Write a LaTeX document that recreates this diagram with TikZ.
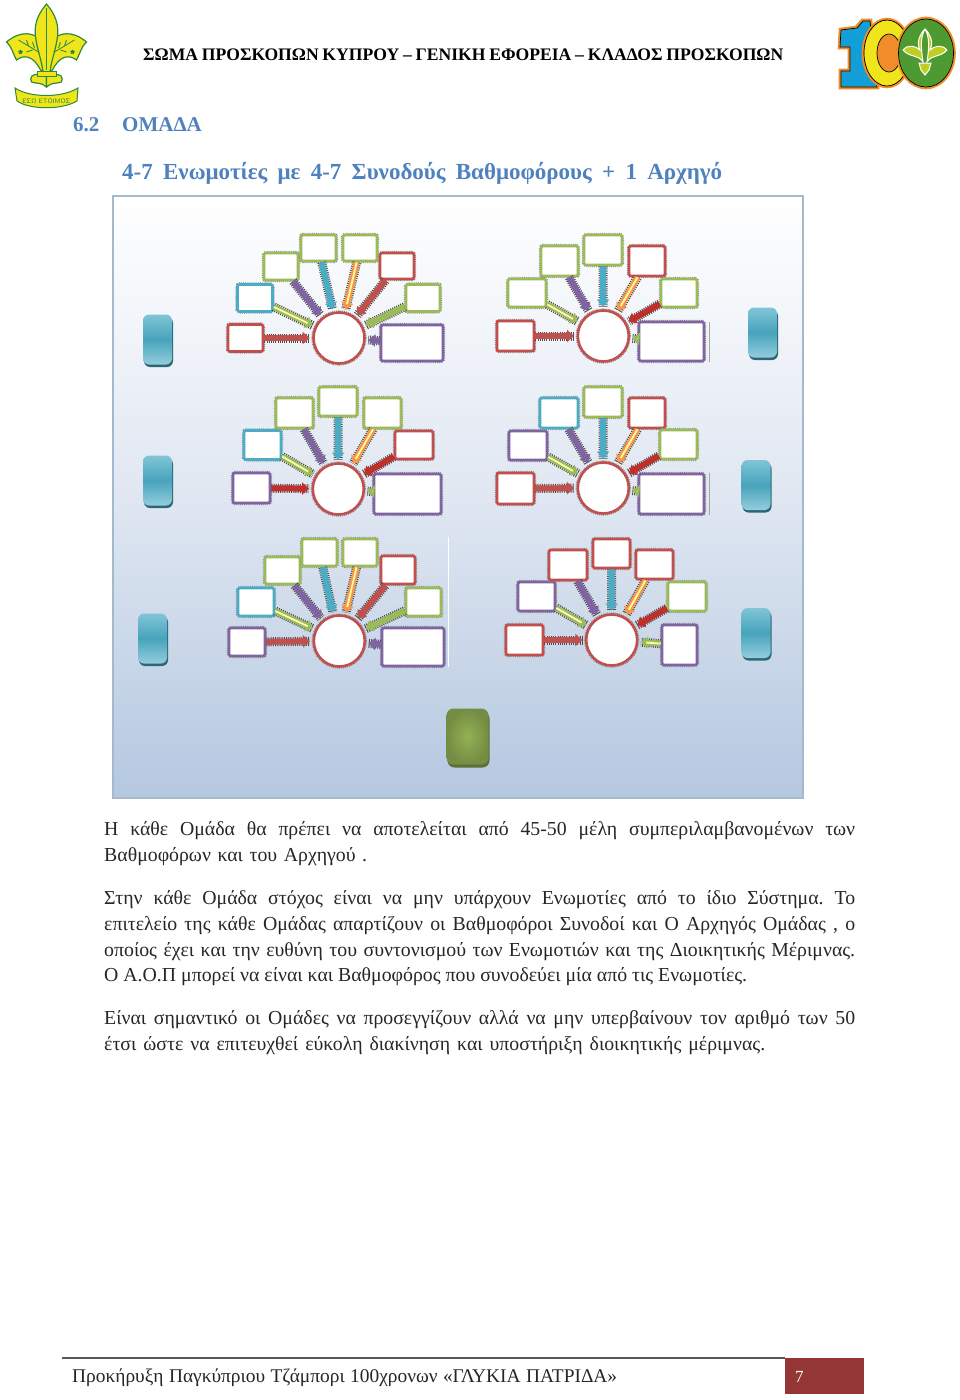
\documentclass[tikz,border=0pt]{standalone}
\usepackage{fontspec}
\setmainfont{Liberation Serif}
\usetikzlibrary{arrows.meta, shadows, shapes.geometric}

\definecolor{fanred}{HTML}{C0504D}
\definecolor{fandark}{HTML}{C0302B}
\definecolor{fangreen}{HTML}{9BBB59}
\definecolor{fanblue}{HTML}{4BACC6}
\definecolor{fanviolet}{HTML}{8064A2}
\definecolor{fanorange}{HTML}{F79646}
\definecolor{titleblue}{HTML}{4F81BD}
\definecolor{leafgreen}{HTML}{2F8A3C}
\definecolor{leafyellow}{HTML}{F0E51A}
\definecolor{logoblue}{HTML}{129FD8}
\definecolor{logoorange}{HTML}{F08C2A}
\definecolor{logogreen}{HTML}{4E9A32}
\definecolor{panelmid}{HTML}{E0E7F2}
\definecolor{panelbot}{HTML}{B4C8E0}
\definecolor{panelline}{HTML}{A5B9CD}
\definecolor{pagered}{HTML}{943634}

\newcommand{\fitline}[2]{\hbox to #1pt{\frenchspacing\spaceskip=.25em plus 1fil minus .1em #2}}

\begin{document}
\begin{tikzpicture}[
		x=1pt, y=-1pt,
		wh/.style 2 args={minimum width=#1pt, minimum height=#2pt},
		card/.style={rectangle, rounded corners=2pt, fill=white, line width=2.6pt, inner sep=0pt,
			preaction={draw=black!45, line width=4.2pt, dash pattern=on .9pt off 1pt}},
		cred/.style={card, draw=fanred},
		cgreen/.style={card, draw=fangreen},
		cblue/.style={card, draw=fanblue},
		cviolet/.style={card, draw=fanviolet},
		hub/.style={circle, draw=fanred, fill=white, line width=2.6pt, minimum size=51pt, inner sep=0pt,
			preaction={draw=black!45, line width=4.4pt, dash pattern=on .9pt off 1pt}},
		arr/.style={line width=6pt, shorten >=2.5pt, -{Triangle[length=7pt,width=12pt]},
			preaction={draw=black!70, -, line width=9pt, dash pattern=on 1pt off 1.2pt}},
		lit/.style={postaction={draw=#1, -, line width=1.8pt, shorten >=8pt}},
		aviolet/.style={arr, draw=fanviolet},
		ablue/.style={arr, draw=fanblue},
		ared/.style={arr, draw=fanred},
		adark/.style={arr, draw=fandark},
		agreen/.style={arr, draw=fangreen},
		aorange/.style={arr, draw=fanorange, lit=yellow!35},
		alight/.style={arr, draw=fangreen, lit=yellow!30},
		sidebox/.style={rectangle, rounded corners=6pt, wh={29}{50},
			top color=fanblue!70!white, bottom color=fanblue!60!white, middle color=fanblue!95!black,
			drop shadow={shadow xshift=1pt, shadow yshift=-2.5pt, fill=fanblue!60!black, opacity=1}},
		chief/.style={rectangle, rounded corners=7pt, wh={42}{56}, inner color=fangreen!95!black, outer color=fangreen!75!black,
			drop shadow={shadow xshift=1pt, shadow yshift=-3pt, fill=fangreen!60!black, opacity=1}},
		bodyline/.style={anchor=base west, inner sep=0pt, text=black!85, font=\fontsize{19.8}{24}\selectfont},
		headline/.style={anchor=base west, inner sep=0pt, text=titleblue, font=\fontsize{21}{26}\selectfont\bfseries}
	]
	\useasboundingbox (0,0) rectangle (960,1400);

	% emblem left
	\foreach \s in {1,-1} {
		\begin{scope}[xshift=46.5pt, xscale=\s]
			\draw[fill=leafyellow, draw=leafgreen, line width=1.2pt] (3,62) .. controls (2,48) and (-1,44) .. (-3,42)
				.. controls (-12,32) and (-26,30) .. (-40,42) .. controls (-35,46) and (-33,55) .. (-30,60)
				.. controls (-22,54) and (-13,56) .. (-6,70) -- (0,72) -- cycle;
			\draw[leafgreen, line width=.8pt] (-8,52) -- (-28,40) (-12,48) -- (-14,42) (-18,46) -- (-20,40) (-14,50) -- (-20,52);
			\node[star, star points=5, fill=leafgreen, inner sep=0pt, minimum size=5pt] (star\s) at (-26,52) {};
			\draw[fill=leafyellow, draw=leafgreen, line width=1.2pt] (-7,75) .. controls (-15,73) and (-17,78) .. (-15,82)
				.. controls (-10,84) and (-5,82) .. (0,87) -- (0,75) -- cycle;
		\end{scope}
	}
	\draw[fill=leafyellow, draw=leafgreen, line width=1.2pt] (46.5,4) .. controls (38,14) and (33,25) .. (36,40)
		.. controls (38,52) and (42,62) .. (43,72) -- (50,72) .. controls (51,62) and (55,52) .. (57,40)
		.. controls (60,25) and (55,14) .. cycle;
	\draw[leafgreen, line width=1pt] (46.5,8) -- (46.5,70);
	\draw[fill=leafyellow, draw=leafgreen, line width=1pt] (37,71) rectangle (56,76);
	\draw[fill=leafyellow, draw=leafgreen, line width=1pt] (15,88) .. controls (30,98) and (62,98) .. (78,88)
		-- (77,101) .. controls (62,110) and (30,110) .. (17,101) -- cycle;
	\node[inner sep=0pt, text=leafgreen, font=\sffamily\fontsize{6.5}{7}\selectfont] (motto) at (46.5,101) {ΕΣΩ ΕΤΟΙΜΟΣ};

	% emblem right
	\draw[fill=logoblue, draw=logoorange, line width=2.6pt] (840,29) -- (856,27) -- (862,20) -- (871,20) -- (878,88) -- (840,88)
		-- (840,70) -- (849,70) -- (849,48) -- (839,48) -- cycle;
	\draw[draw=black, line width=.7pt] (841,30) -- (857,28) -- (863,21) -- (870,21) -- (877,87) -- (841,87)
		-- (841,71) -- (850,71) -- (850,47) -- (840,47) -- cycle;
	\draw[fill=leafyellow, draw=logoorange, line width=2.6pt] (887,53) ellipse (24 and 34);
	\draw[draw=black, line width=.7pt] (887,53) ellipse (23 and 33);
	\draw[fill=logoorange, draw=black, line width=.7pt] (889,53) ellipse (12 and 19);
	\draw[fill=logogreen, draw=logoorange, line width=2.6pt] (926,53) ellipse (28.5 and 35);
	\draw[draw=black, line width=.7pt] (926,53) ellipse (27.5 and 34);
	\draw[fill=leafyellow!70!logogreen, draw=white, line width=1pt] (925,29) .. controls (920,38) and (921,48) .. (923,62)
		.. controls (918,54) and (910,58) .. (903,50) .. controls (908,44) and (916,46) .. (920,50)
		.. controls (916,42) and (920,34) .. (925,29) .. controls (930,34) and (934,42) .. (930,50)
		.. controls (934,46) and (942,44) .. (947,50) .. controls (940,58) and (932,54) .. (927,62)
		.. controls (929,48) and (930,38) .. cycle;
	\draw[fill=leafyellow!70!logogreen, draw=white, line width=1pt] (919,63) -- (931,63) -- (929,70) -- (925,75) -- (921,70) -- cycle;

	\node[anchor=base west, inner sep=0pt, font=\fontsize{17.6}{22}\selectfont\bfseries] (corps) at (143,60) {\fitline{640}{ΣΩΜΑ ΠΡΟΣΚΟΠΩΝ ΚΥΠΡΟΥ – ΓΕΝΙΚΗ ΕΦΟΡΕΙΑ – ΚΛΑΔΟΣ ΠΡΟΣΚΟΠΩΝ}};
	\node[headline] (secno) at (73,131) {6.2};
	\node[headline] (sec) at (122,131) {\fitline{78}{ΟΜΑΔΑ}};
	\node[headline, font=\fontsize{23}{28}\selectfont\bfseries] (subsec) at (122,179) {\fitline{600}{4-7 Ενωμοτίες με 4-7 Συνοδούς Βαθμοφόρους + 1 Αρχηγό}};

	\node[rectangle, draw=panelline, line width=2.4pt, wh={690}{602}, top color=white, bottom color=panelbot, middle color=panelmid, inner sep=0pt] (panel) at (458,497) {};

	% upper left
	\node[hub] (hub1) at (339,338) {};
	\node[cred, wh={35}{27}] (a1) at (245.5,338) {};
	\node[cblue, wh={35}{27}] (b1) at (255,298) {};
	\node[cgreen, wh={34}{27}] (c1) at (281,266.5) {};
	\node[cgreen, wh={35}{26}] (d1) at (318.5,248) {};
	\node[cgreen, wh={34}{26}] (e1) at (360,248) {};
	\node[cred, wh={34}{26}] (f1) at (397,266) {};
	\node[cgreen, wh={34}{27}] (g1) at (423,298) {};
	\node[cviolet, wh={62}{36}] (h1) at (412,343) {};
	\draw[ared] (a1) -- (hub1);
	\draw[alight] (b1) -- (hub1);
	\draw[aviolet] (c1) -- (hub1);
	\draw[ablue] (d1) -- (hub1);
	\draw[aorange] (e1) -- (hub1);
	\draw[ared] (f1) -- (hub1);
	\draw[agreen] (g1) -- (hub1);
	\draw[aviolet] (h1) -- (hub1);

	% upper right
	\node[hub] (hub2) at (603.3,336) {};
	\node[cred, wh={37}{30}] (a2) at (515.5,336) {};
	\node[cgreen, wh={38}{28}] (b2) at (527,293) {};
	\node[cgreen, wh={37}{30}] (c2) at (559.5,261) {};
	\node[cgreen, wh={38}{30}] (d2) at (603,250) {};
	\node[cred, wh={36}{30}] (e2) at (647,261) {};
	\node[cgreen, wh={36}{28}] (f2) at (679,293) {};
	\node[cviolet, wh={65}{39}] (g2) at (671.5,341.5) {};
	\draw[ared] (a2) -- (hub2);
	\draw[alight] (b2) -- (hub2);
	\draw[aviolet] (c2) -- (hub2);
	\draw[ablue] (d2) -- (hub2);
	\draw[aorange] (e2) -- (hub2);
	\draw[adark] (f2) -- (hub2);
	\draw[alight] (g2) -- (hub2);
	\draw[black!35, thin] (709,322) -- (709,362);

	% middle left
	\node[hub] (hub3) at (338.3,489) {};
	\node[cviolet, wh={37}{30}] (a3) at (251.5,488) {};
	\node[cblue, wh={37}{29}] (b3) at (262.5,445) {};
	\node[cgreen, wh={37}{30}] (c3) at (294.5,413) {};
	\node[cgreen, wh={38}{29}] (d3) at (338,401.5) {};
	\node[cgreen, wh={37}{30}] (e3) at (382.5,413) {};
	\node[cred, wh={38}{28}] (f3) at (414,445) {};
	\node[cviolet, wh={67}{40}] (g3) at (407.5,494) {};
	\draw[adark] (a3) -- (hub3);
	\draw[alight] (b3) -- (hub3);
	\draw[aviolet] (c3) -- (hub3);
	\draw[ablue] (d3) -- (hub3);
	\draw[aorange] (e3) -- (hub3);
	\draw[adark] (f3) -- (hub3);
	\draw[alight] (g3) -- (hub3);

	% middle right
	\node[hub] (hub4) at (603.3,488) {};
	\node[cred, wh={37}{31}] (a4) at (515.5,488.5) {};
	\node[cviolet, wh={38}{29}] (b4) at (528,445.5) {};
	\node[cblue, wh={38}{30}] (c4) at (559,413) {};
	\node[cgreen, wh={38}{30}] (d4) at (603,402) {};
	\node[cred, wh={36}{30}] (e4) at (647,413) {};
	\node[cgreen, wh={37}{29}] (f4) at (678.5,444.5) {};
	\node[cviolet, wh={65}{40}] (g4) at (671.5,494) {};
	\draw[ared] (a4) -- (hub4);
	\draw[alight] (b4) -- (hub4);
	\draw[aviolet] (c4) -- (hub4);
	\draw[ablue] (d4) -- (hub4);
	\draw[aorange] (e4) -- (hub4);
	\draw[adark] (f4) -- (hub4);
	\draw[alight] (g4) -- (hub4);
	\draw[black!35, thin] (709,473) -- (709,515);

	% lower left
	\node[hub] (hub5) at (339.3,641) {};
	\node[cviolet, wh={36}{28}] (a5) at (247,642) {};
	\node[cblue, wh={36}{28}] (b5) at (256,602) {};
	\node[cgreen, wh={35}{27}] (c5) at (282.5,570.5) {};
	\node[cgreen, wh={35}{27}] (d5) at (319.5,552.5) {};
	\node[cgreen, wh={34}{27}] (e5) at (360,552.5) {};
	\node[cred, wh={34}{28}] (f5) at (398,570) {};
	\node[cgreen, wh={35}{28}] (g5) at (423.5,602) {};
	\node[cviolet, wh={62}{38}] (h5) at (413,647) {};
	\draw[ared] (a5) -- (hub5);
	\draw[alight] (b5) -- (hub5);
	\draw[aviolet] (c5) -- (hub5);
	\draw[ablue] (d5) -- (hub5);
	\draw[aorange] (e5) -- (hub5);
	\draw[ared] (f5) -- (hub5);
	\draw[agreen] (g5) -- (hub5);
	\draw[aviolet] (h5) -- (hub5);
	\draw[white, thin] (448.5,537) -- (448.5,667);

	% lower right
	\node[hub] (hub6) at (611.7,640) {};
	\node[cred, wh={37}{30}] (a6) at (524.5,640) {};
	\node[cviolet, wh={37}{29}] (b6) at (536.5,596.5) {};
	\node[cred, wh={38}{30}] (c6) at (568,565) {};
	\node[cred, wh={37}{29}] (d6) at (611.5,553.5) {};
	\node[cred, wh={37}{29}] (e6) at (654.5,564.5) {};
	\node[cgreen, wh={38}{29}] (f6) at (687,596.5) {};
	\node[cviolet, wh={35}{40}] (g6) at (679.5,645) {};
	\draw[ared] (a6) -- (hub6);
	\draw[alight] (b6) -- (hub6);
	\draw[aviolet] (c6) -- (hub6);
	\draw[ablue] (d6) -- (hub6);
	\draw[aorange] (e6) -- (hub6);
	\draw[adark] (f6) -- (hub6);
	\draw[alight] (g6) -- (hub6);

	\node[sidebox] (s1) at (157.5,339.5) {};
	\node[sidebox] (s2) at (762.5,332.5) {};
	\node[sidebox] (s3) at (157.5,480.5) {};
	\node[sidebox] (s4) at (756,485) {};
	\node[sidebox] (s5) at (152.5,638.5) {};
	\node[sidebox] (s6) at (756,633) {};
	\node[chief] (lead) at (467.5,736.5) {};

	\node[bodyline] (l1) at (104,835) {\fitline{751}{Η κάθε Ομάδα θα πρέπει να αποτελείται από 45-50 μέλη συμπεριλαμβανομένων των}};
	\node[bodyline] (l2) at (104,861) {\fitline{263}{Βαθμοφόρων και του Αρχηγού .}};
	\node[bodyline] (l3) at (104,904) {\fitline{751}{Στην κάθε Ομάδα στόχος είναι να μην υπάρχουν Ενωμοτίες από το ίδιο Σύστημα. Το}};
	\node[bodyline] (l4) at (104,930) {\fitline{751}{επιτελείο της κάθε Ομάδας απαρτίζουν οι Βαθμοφόροι Συνοδοί και Ο Αρχηγός Ομάδας , ο}};
	\node[bodyline] (l5) at (104,956) {\fitline{751}{οποίος έχει και την ευθύνη του συντονισμού των Ενωμοτιών και της Διοικητικής Μέριμνας.}};
	\node[bodyline] (l6) at (104,981) {\fitline{643}{Ο Α.Ο.Π μπορεί να είναι και Βαθμοφόρος που συνοδεύει μία από τις Ενωμοτίες.}};
	\node[bodyline] (l7) at (104,1024) {\fitline{751}{Είναι σημαντικό οι Ομάδες να προσεγγίζουν αλλά να μην υπερβαίνουν τον αριθμό των 50}};
	\node[bodyline] (l8) at (104,1050) {\fitline{661}{έτσι ώστε να επιτευχθεί εύκολη διακίνηση και υποστήριξη διοικητικής μέριμνας.}};

	\fill[pagered] (785,1358) rectangle (864,1394);
	\draw[black!65, line width=1.6pt] (62,1358) -- (785,1358);
	\node[bodyline, font=\fontsize{19.4}{24}\selectfont] (foot) at (72,1382) {\fitline{545}{Προκήρυξη Παγκύπριου Τζάμπορι 100χρονων «ΓΛΥΚΙΑ ΠΑΤΡΙΔΑ»}};
	\node[bodyline, text=white, font=\fontsize{17}{20}\selectfont] (pageno) at (795,1382) {7};
\end{tikzpicture}
\end{document}
